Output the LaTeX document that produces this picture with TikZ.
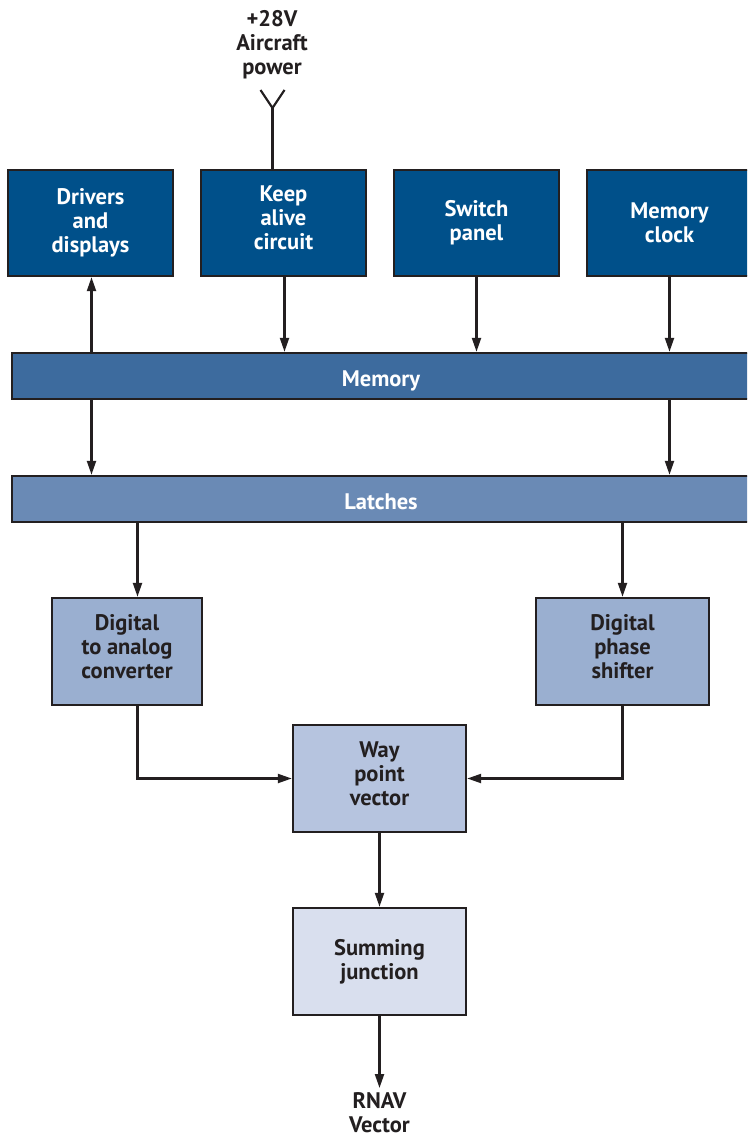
\documentclass[tikz,border=0pt]{standalone}
\usepackage{fontspec}
\setmainfont{PT Sans}
\usetikzlibrary{arrows.meta}
\definecolor{cdark}{HTML}{00508A}
\definecolor{cmem}{HTML}{3D6B9E}
\definecolor{clat}{HTML}{6A8AB5}
\definecolor{cmid}{HTML}{9AAFD0}
\definecolor{cway}{HTML}{B6C4DF}
\definecolor{csum}{HTML}{D9DFEE}
\definecolor{cline}{HTML}{231F20}
\tikzset{
  box/.style={draw=cline, line width=2.4pt, inner sep=0pt, align=center,
    font=\fontsize{22.5}{24}\selectfont\bfseries},
  darkbox/.style={box, fill=cdark, text=white},
  barbox/.style={box, text=white, minimum height=46pt, minimum width=738pt,
    text height=20pt, text depth=0pt},
  lightbox/.style={box, text=cline},
  raised/.style={text depth=10pt},
  conn/.style={draw=cline, line width=2.2pt, -{Triangle[length=14pt,width=9pt]}},
  wire/.style={draw=cline, line width=2.2pt},
  label/.style={text=cline, align=center, font=\fontsize{22.5}{24}\selectfont\bfseries}
}
\begin{document}
\begin{tikzpicture}[x=1pt,y=-1pt]
\useasboundingbox (0,0) rectangle (747,1137);
\clip (0,0) rectangle (747,1137);
\fill[white] (0,0) rectangle (747,1137);
% top row
\node[darkbox, minimum width=165pt, minimum height=106pt] (drv) at (90.5,223) {Drivers\\and\\displays};
\node[darkbox, raised, minimum width=165pt, minimum height=106pt] (kac) at (283.5,223) {Keep\\alive\\circuit};
\node[darkbox, minimum width=165pt, minimum height=106pt] (swp) at (476.5,223) {Switch\\panel};
\node[darkbox, minimum width=165pt, minimum height=106pt] (mcl) at (669.5,223) {Memory\\clock};
% bars
\node[barbox, fill=cmem] (mem) at (381,376) {Memory};
\node[barbox, fill=clat] (lat) at (381,499) {Latches};
% middle
\node[lightbox, raised, fill=cmid, minimum width=150pt, minimum height=107pt] (dac) at (127,651.5) {Digital\\to analog\\converter};
\node[lightbox, raised, fill=cmid, minimum width=173pt, minimum height=107pt] (dps) at (622.5,651.5) {Digital\\phase\\shifter};
\node[lightbox, raised, fill=cway, minimum width=173pt, minimum height=107pt] (wpv) at (379.5,778.5) {Way\\point\\vector};
\node[lightbox, fill=csum, minimum width=173pt, minimum height=107pt] (sum) at (379.5,961.5) {Summing\\junction};
% labels
\node[label] (pwr) at (272,44.5) {+28V\\Aircraft\\power};
\node[label] (rnav) at (379.5,1113) {RNAV\\Vector};
\coordinate (ant) at (272.5,108);
\coordinate (antl) at (260.5,90);
\coordinate (antr) at (284.5,90);
\coordinate (rnavtop) at (379.5,1088);
\coordinate (drvx) at (91.5,0);
\coordinate (kacx) at (284.5,0);
\coordinate (dacx) at (137.5,0);
% antenna
\draw[wire] (antl) -- (ant) -- (antr);
\draw[wire] (ant) -- (ant |- kac.north);
% connectors
\draw[conn] (mem.north -| drvx) -- (drv.south -| drvx);
\draw[conn] (kac.south -| kacx) -- (mem.north -| kacx);
\draw[conn] (swp.south) -- (mem.north -| swp.south);
\draw[conn] (mcl.south) -- (mem.north -| mcl.south);
\draw[conn] (mem.south -| drvx) -- (lat.north -| drvx);
\draw[conn] (mem.south -| mcl.south) -- (lat.north -| mcl.south);
\draw[conn] (lat.south -| dacx) -- (dac.north -| dacx);
\draw[conn] (lat.south -| dps.south) -- (dps.north);
\draw[conn] (dac.south -| dacx) |- (wpv.west);
\draw[conn] (dps.south) |- (wpv.east);
\draw[conn] (wpv.south) -- (sum.north);
\draw[conn] (sum.south) -- (rnavtop);
\end{tikzpicture}
\end{document}
